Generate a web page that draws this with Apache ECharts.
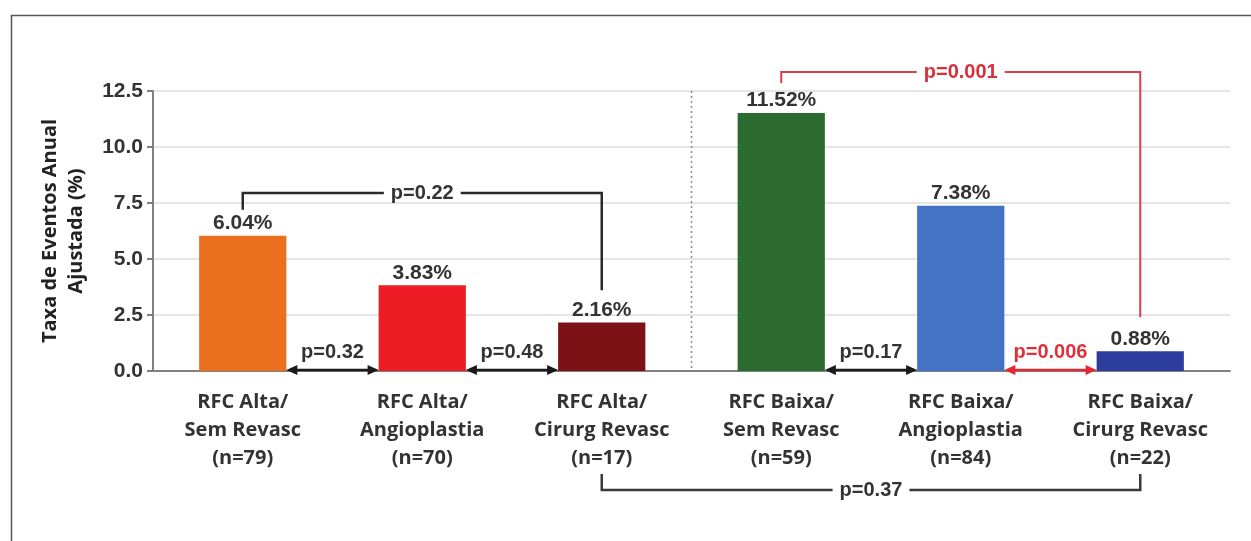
<!DOCTYPE html>
<html><head><meta charset="utf-8">
<script src="https://cdn.jsdelivr.net/npm/echarts@6/dist/echarts.min.js"></script>
<style>html,body{margin:0;padding:0;background:#fff}#c{width:1251px;height:541px}</style>
</head><body><div id="c"></div>
<script>
// ---------- data ----------
const categories = [
  'RFC Alta/\nSem Revasc\n(n=79)',
  'RFC Alta/\nAngioplastia\n(n=70)',
  'RFC Alta/\nCirurg Revasc\n(n=17)',
  'RFC Baixa/\nSem Revasc\n(n=59)',
  'RFC Baixa/\nAngioplastia\n(n=84)',
  'RFC Baixa/\nCirurg Revasc\n(n=22)'
];
const rates = [6.04, 3.83, 2.16, 11.52, 7.38, 0.88];
const yAxisName = 'Taxa de Eventos Anual\nAjustada (%)';

// adjacent comparisons (double arrows along the axis)
const arrowFrom = [0, 1, 3, 4];
const arrowTo = [1, 2, 4, 5];
const arrowLabels = ['p=0.32', 'p=0.48', 'p=0.17', 'p=0.006'];

// bracket comparisons
const bracketFrom = [0, 3, 2];
const bracketTo = [2, 5, 5];
const bracketLabels = ['p=0.22', 'p=0.001', 'p=0.37'];

// ---------- annotation layout (data units) ----------
const bracketLevel = [7.95, 13.35, -5.31];
const bracketFootFrom = [7.2, 12.85, -4.6];
const bracketFootTo = [3.6, 2.4, -4.6];
const bracketLabelAt = [1, 4, 3.5];
const dividerAfter = 2;

// ---------- styles ----------
const barColors = ['#EA7020', '#EE1D25', '#7D1216', '#2B6B2F', '#4472C4', '#2D3D9E'];
const arrowColors = ['#1a1a1a', '#1a1a1a', '#1a1a1a', '#E8262F'];
const arrowTextColors = ['#333', '#333', '#333', '#E0303A'];
const bracketColors = ['#2a2a2a', '#D9404A', '#3a3a3a'];
const bracketTextColors = ['#333', '#D9303A', '#333'];
const bracketWidths = [2.5, 2, 2.5];
const BAR_FRAC = 0.486;
const ARIAL = '"Liberation Sans", Arial, sans-serif';
const HUMANIST = '"Open Sans", "Noto Sans", sans-serif';

const chart = echarts.init(document.getElementById('c'), null, {renderer: 'canvas'});

function xAt(api, v) {
  const f = Math.floor(v), c = Math.ceil(v);
  const a = api.coord([f, 0])[0], b = api.coord([c, 0])[0];
  return a + (b - a) * (v - f);
}

function renderArrow(params, api) {
  const i = params.dataIndex;
  const band = api.coord([1, 0])[0] - api.coord([0, 0])[0];
  const half = band * BAR_FRAC / 2;
  const xa = api.coord([arrowFrom[i], 0])[0] + half;
  const xb = api.coord([arrowTo[i], 0])[0] - half;
  const y0 = api.coord([0, 0])[1] - 1;
  const col = arrowColors[i];
  const hl = 11, hw = 5;
  return {
    type: 'group',
    children: [
      {type: 'line', shape: {x1: xa + hl - 2, y1: y0, x2: xb - hl + 2, y2: y0},
       style: {stroke: col, lineWidth: 2.5}},
      {type: 'polygon', shape: {points: [[xa, y0], [xa + hl, y0 - hw], [xa + hl, y0 + hw]]},
       style: {fill: col}},
      {type: 'polygon', shape: {points: [[xb, y0], [xb - hl, y0 - hw], [xb - hl, y0 + hw]]},
       style: {fill: col}},
      {type: 'text', style: {text: arrowLabels[i], x: (xa + xb) / 2, y: y0 - 18,
        align: 'center', verticalAlign: 'middle', fill: arrowTextColors[i],
        font: 'bold 20px ' + ARIAL}}
    ]
  };
}

function renderBracket(params, api) {
  const i = params.dataIndex;
  const x1 = api.coord([bracketFrom[i], 0])[0];
  const x2 = api.coord([bracketTo[i], 0])[0];
  const yl = api.coord([0, bracketLevel[i]])[1];
  const yf1 = api.coord([0, bracketFootFrom[i]])[1];
  const yf2 = api.coord([0, bracketFootTo[i]])[1];
  const xt = xAt(api, bracketLabelAt[i]);
  return {
    type: 'group',
    children: [
      {type: 'polyline', shape: {points: [[x1, yf1], [x1, yl], [x2, yl], [x2, yf2]]},
       style: {stroke: bracketColors[i], lineWidth: bracketWidths[i], fill: null}},
      {type: 'text', z2: 10, style: {text: bracketLabels[i], x: xt, y: yl + 1,
        align: 'center', verticalAlign: 'middle', fill: bracketTextColors[i],
        font: 'bold 20px ' + ARIAL, backgroundColor: '#fff', padding: [0, 7], lineHeight: 16}}
    ]
  };
}

function renderDivider(params, api) {
  const x = (api.coord([dividerAfter, 0])[0] + api.coord([dividerAfter + 1, 0])[0]) / 2;
  const yTop = api.coord([0, 12.5])[1];
  const yBot = api.coord([0, 0])[1];
  return {type: 'line', shape: {x1: x, y1: yTop, x2: x, y2: yBot},
    style: {stroke: '#8a8a8a', lineWidth: 1.5, lineDash: [2, 3]}};
}

const option = {
  animation: false,
  backgroundColor: '#fff',
  graphic: [{
    type: 'rect', left: 9, top: 13, silent: true, z: -10,
    shape: {width: 1300, height: 600},
    style: {fill: 'none', stroke: '#555', lineWidth: 1.5}
  }],
  grid: {left: 153, right: 21, top: 91, bottom: 170, containLabel: false},
  xAxis: {
    type: 'category',
    data: categories,
    boundaryGap: true,
    axisLine: {lineStyle: {color: '#808080', width: 2}},
    axisTick: {alignWithLabel: true, length: 7, lineStyle: {color: '#999', width: 2}},
    axisLabel: {interval: 0, margin: 17, color: '#333', fontFamily: HUMANIST,
      fontWeight: 'bold', fontSize: 20, lineHeight: 28},
    splitLine: {show: false}
  },
  yAxis: {
    type: 'value', min: 0, max: 12.5, interval: 2.5,
    name: yAxisName, nameLocation: 'middle', nameGap: 64, nameRotate: 90,
    nameTextStyle: {fontFamily: HUMANIST, fontWeight: 'bold', fontSize: 20,
      lineHeight: 26, color: '#222'},
    axisLine: {show: true, lineStyle: {color: '#808080', width: 2}},
    axisTick: {show: true, length: 6, lineStyle: {color: '#808080', width: 2}},
    axisLabel: {formatter: v => v.toFixed(1), color: '#333', fontFamily: ARIAL,
      fontWeight: 'bold', fontSize: 21, margin: 10},
    splitLine: {show: true, lineStyle: {color: '#dcdcdc', width: 1.5}}
  },
  series: [
    {
      type: 'bar',
      barWidth: (BAR_FRAC * 100) + '%',
      data: rates.map((v, i) => ({value: v, itemStyle: {color: barColors[i]}})),
      label: {show: true, position: 'top', distance: 2,
        formatter: p => p.value.toFixed(2) + '%',
        color: '#333', fontFamily: ARIAL, fontWeight: 'bold', fontSize: 21},
      z: 2
    },
    {
      type: 'custom', renderItem: renderDivider, clip: false, z: 1, silent: true,
      data: [[dividerAfter, dividerAfter + 1, 0]], encode: {x: [0, 1], y: 2}
    },
    {
      type: 'custom', renderItem: renderArrow, clip: false, z: 5, silent: true,
      data: arrowFrom.map((f, i) => [f, arrowTo[i], 0]), encode: {x: [0, 1], y: 2}
    },
    {
      type: 'custom', renderItem: renderBracket, clip: false, z: 5, silent: true,
      data: bracketFrom.map((f, i) => [f, bracketTo[i], 0]), encode: {x: [0, 1], y: 2}
    }
  ]
};
chart.setOption(option);
</script>
</body></html>
